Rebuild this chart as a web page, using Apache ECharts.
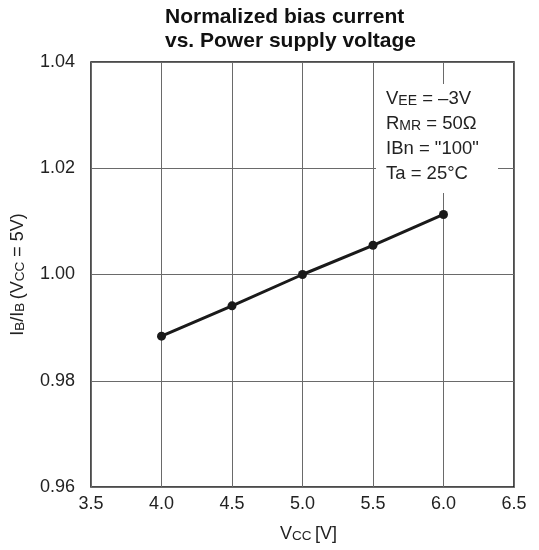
<!DOCTYPE html>
<html><head><meta charset="utf-8">
<script src="https://cdn.jsdelivr.net/npm/echarts@6/dist/echarts.min.js"></script>
<style>html,body{margin:0;padding:0;background:#fff}#c{width:539px;height:550px}</style>
</head><body><div id="c"></div>
<script>
var vcc = [4.0, 4.5, 5.0, 5.5, 6.0];
var ratio = [0.9884, 0.9941, 1.0000, 1.0055, 1.0113];
var xTicks = [3.5, 4.0, 4.5, 5.0, 5.5, 6.0, 6.5];
var yTicks = [0.96, 0.98, 1.00, 1.02, 1.04];

var F = 'Liberation Sans, Arial, sans-serif';
var chart = echarts.init(document.getElementById('c'));
var big = {fontSize: 18.5, fontFamily: F, color: '#222', verticalAlign: 'bottom', lineHeight: 21};
var sm = {fontSize: 14, fontFamily: F, color: '#222', verticalAlign: 'bottom', lineHeight: 20};
function line(y, t) {
  return {type: 'text', left: 386, top: y, z: 100,
    style: {text: t, rich: {b: big, s: sm}, font: '18.5px ' + F, fill: '#222'}};
}
var nb = {fontSize: 18, fontFamily: F, color: '#222', verticalAlign: 'bottom'};
var ns = {fontSize: 13.5, fontFamily: F, color: '#222', verticalAlign: 'bottom'};
chart.setOption({
  animation: false,
  title: {
    text: 'Normalized bias current\nvs. Power supply voltage',
    left: 160, top: 0,
    textStyle: {fontFamily: F, fontWeight: 'bold', fontSize: 21, color: '#111', lineHeight: 24}
  },
  grid: {left: 91, right: 25, top: 62, bottom: 63, show: true, borderColor: '#111', borderWidth: 1.5, backgroundColor: 'transparent'},
  xAxis: {
    type: 'value', min: xTicks[0], max: xTicks[xTicks.length - 1], interval: 0.5,
    axisLine: {show: false}, axisTick: {show: false},
    splitLine: {show: true, lineStyle: {color: '#6a6a6a', width: 1}},
    axisLabel: {formatter: function (v) { return v.toFixed(1); }, fontFamily: F, fontSize: 18, color: '#222', margin: 8},
    name: '{b|V}{s|CC} {b|[V]}', nameLocation: 'middle', nameGap: 38,
    nameTextStyle: {padding: [0, 0, 0, 12], rich: {b: nb, s: ns}}
  },
  yAxis: {
    type: 'value', min: yTicks[0], max: yTicks[yTicks.length - 1], interval: 0.02,
    axisLine: {show: false}, axisTick: {show: false},
    splitLine: {show: true, lineStyle: {color: '#6a6a6a', width: 1}},
    axisLabel: {formatter: function (v) { return v.toFixed(2); }, fontFamily: F, fontSize: 18, color: '#222', margin: 16},
    name: '{b|I}{s|B}{b|/I}{s|B} {b|(V}{s|CC}{b| = 5V)}', nameLocation: 'middle', nameGap: 64, nameRotate: 90,
    nameTextStyle: {rich: {b: nb, s: ns}}
  },
  graphic: [
    {type: 'rect', left: 376, top: 84, z: 90, shape: {width: 122, height: 109}, style: {fill: '#fff'}},
    line(89, '{b|V}{s|EE}{b| = \u20133V}'),
    line(114, '{b|R}{s|MR}{b| = 50\u03a9}'),
    line(139, '{b|IBn = "100"}'),
    line(164, '{b|Ta = 25\u00b0C}')
  ],
  series: [{
    type: 'line', data: vcc.map(function (x, i) { return [x, ratio[i]]; }),
    symbol: 'circle', symbolSize: 9,
    lineStyle: {color: '#1a1a1a', width: 3},
    itemStyle: {color: '#1a1a1a'}, z: 5
  }]
});
</script></body></html>
